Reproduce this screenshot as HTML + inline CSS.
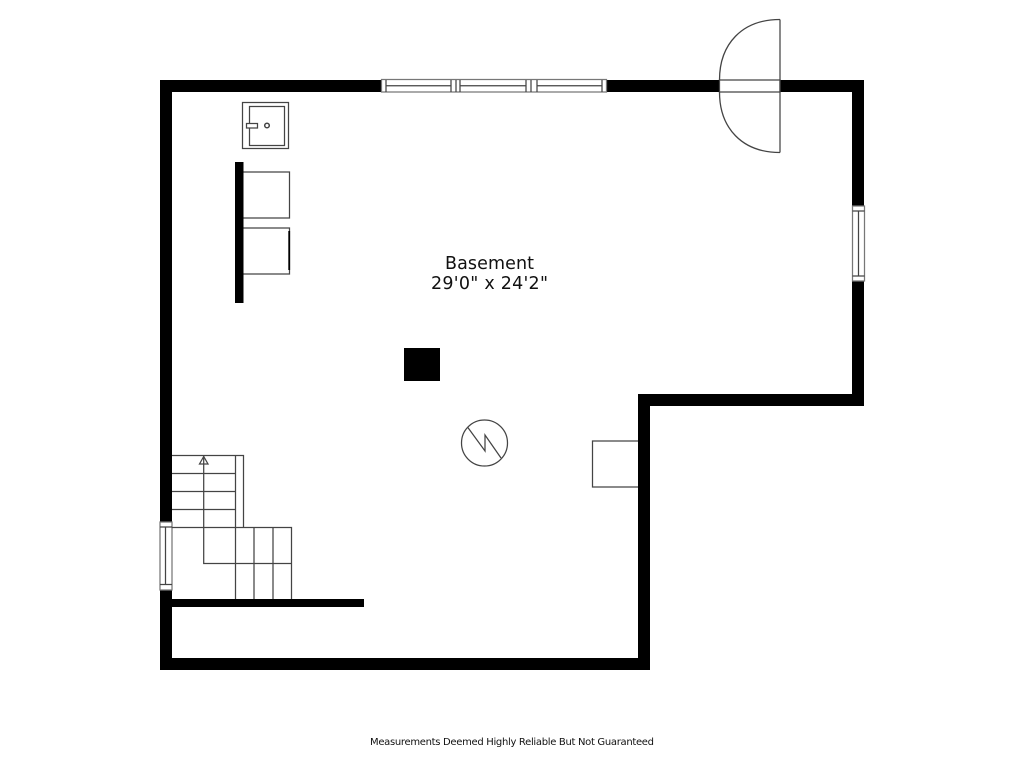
<!DOCTYPE html>
<html><head><meta charset="utf-8"><style>
html,body{margin:0;padding:0;background:#fff}
svg{display:block}
text{font-family:"DejaVu Sans","Liberation Sans",sans-serif;fill:#111;text-anchor:middle}
</style></head><body>
<svg width="1024" height="768" viewBox="0 0 1024 768" xmlns="http://www.w3.org/2000/svg">
<rect width="1024" height="768" fill="#fff"/>
<g fill="#000">
<rect x="160" y="80" width="222" height="12"/>
<rect x="606" y="80" width="113" height="12"/>
<rect x="780" y="80" width="84" height="12"/>
<rect x="160" y="80" width="12" height="442"/>
<rect x="160" y="590" width="12" height="80"/>
<rect x="160" y="658" width="490" height="12"/>
<rect x="638" y="394" width="12" height="276"/>
<rect x="638" y="394" width="226" height="12"/>
<rect x="852" y="80" width="12" height="126"/>
<rect x="852" y="281" width="12" height="125"/>
<rect x="172" y="599" width="192" height="8"/>
<rect x="235" y="162" width="8.500" height="141"/>
<rect x="404" y="348" width="36" height="33"/>
</g>
<g fill="none" stroke="#444" stroke-width="1.250">
<!-- top window -->
<rect x="381.500" y="79.500" width="225" height="12.500" fill="#fff" stroke="#777"/>
<path d="M386 80V92M451 80V92M456 80V92M460 80V92M526 80V92M531 80V92M537 80V92M602 80V92"/>
<path d="M386 85.800H451M460 85.800H526M537 85.800H602"/>
<!-- door -->
<rect x="719.500" y="80" width="60.500" height="12" fill="#fff"/>
<path d="M780 19.500V152.500"/>
<path d="M780 19.500C742 19.500 719.500 44 719.500 80M780 152.500C742 152.500 719.500 128 719.500 92" stroke-width="1.300"/>
<!-- right window -->
<rect x="852.500" y="206" width="12" height="75" fill="#fff" stroke="#777"/>
<path d="M852.500 211H864.500M852.500 276H864.500M858.500 211V276"/>
<!-- left window -->
<rect x="160" y="522" width="12" height="68" fill="#fff" stroke="#777"/>
<path d="M160 527H172M160 584.500H172M165.500 527V584.500"/>
<!-- sink -->
<rect x="242.500" y="102.500" width="46" height="46"/>
<rect x="249.500" y="106.500" width="35" height="39"/>
<rect x="246.500" y="123.500" width="11" height="4.500" fill="#fff"/>
<circle cx="267" cy="125.500" r="2.300" stroke-width="1.500"/>
<!-- appliances -->
<path d="M243.500 172H289.500V218H243.500M243.500 228H289.500V274H243.500"/>
<path d="M289.200 231V270" stroke="#000" stroke-width="1.800"/>
<!-- boiler circle -->
<circle cx="484.500" cy="443" r="23"/>
<path d="M467.500 427L485 451V435L501 458"/>
<!-- right box -->
<path d="M638 441H592.500V487H638"/>
<!-- stairs -->
<path d="M172 455.500H243.500V527.500M235.500 455.500V599M172 473.500H235.500M172 491.500H235.500M172 509.500H235.500M172 527.500H291.500V599M254 527.500V599M273 527.500V599"/>
<path d="M203.700 456V563.500H291.500"/>
<path d="M203.700 456.500L199.500 464H208L203.700 456.500Z"/>
</g>
<text x="489.500" y="269" font-size="17.500" textLength="89" lengthAdjust="spacing">Basement</text>
<text x="489.500" y="289" font-size="17.500" textLength="117" lengthAdjust="spacing">29'0" x 24'2"</text>
<text x="512" y="745" font-size="10" textLength="284" lengthAdjust="spacing">Measurements Deemed Highly Reliable But Not Guaranteed</text>
</svg>
</body></html>
